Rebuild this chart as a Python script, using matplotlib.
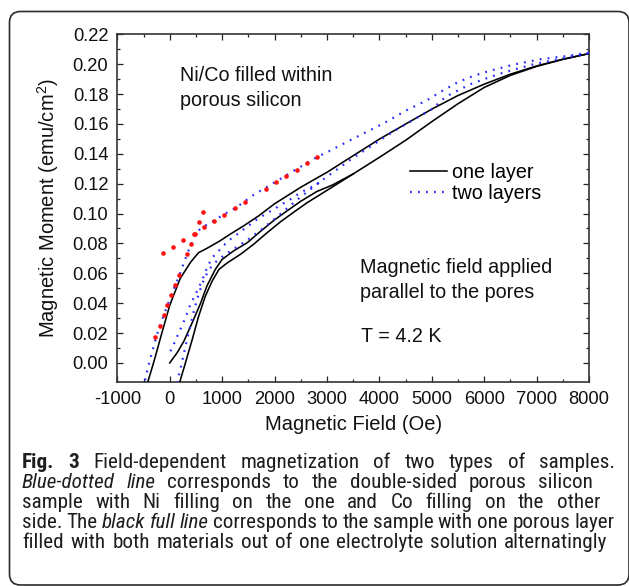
import matplotlib
matplotlib.use("Agg")
import matplotlib.pyplot as plt
from matplotlib.patches import FancyBboxPatch
from matplotlib.transforms import IdentityTransform
from matplotlib.lines import Line2D
from matplotlib import font_manager

# ---------------- data ----------------
# one layer (black solid) : descending branch
one_desc_x = [8000, 7500, 7000, 6500, 6000, 5500, 5000, 4500, 4000, 3500, 3000, 2500,
              2000, 1700, 1400, 1150, 950, 800, 700, 550, 400, 200, 0, -150, -300, -420, -460]
one_desc_y = [0.2071, 0.2033, 0.1988, 0.1933, 0.1866, 0.1790, 0.1699, 0.1599, 0.1498, 0.1387,
              0.1276, 0.1176, 0.1065, 0.0985, 0.0915, 0.0861, 0.0815, 0.0785, 0.0765, 0.0738,
              0.0675, 0.0565, 0.0385, 0.0200, 0.0010, -0.0130, -0.0180]
# one layer : ascending branch
one_asc_x = [190, 300, 430, 550, 680, 810, 940, 1100, 1350, 1600, 1860, 2115, 2370, 2620,
             3000, 3500, 4000, 4500, 5000, 5500, 6000, 6500, 7000, 7500, 8000]
one_asc_y = [-0.0130, 0.0000, 0.0157, 0.0310, 0.0447, 0.0548, 0.0626, 0.0670, 0.0727, 0.0794,
             0.0872, 0.0945, 0.1010, 0.1072, 0.1155, 0.1265, 0.1376, 0.1490, 0.1615, 0.1735,
             0.1844, 0.1925, 0.1985, 0.2032, 0.2071]
# one layer : initial (virgin) curve
one_virgin_x = [0, 140, 270, 430, 590, 710, 870, 1000, 1220, 1480, 1730, 1990, 2240, 2500,
                2810, 3100, 3500]
one_virgin_y = [0.0000, 0.0067, 0.0145, 0.0270, 0.0400, 0.0515, 0.0626, 0.0693, 0.0750, 0.0805,
                0.0880, 0.0955, 0.1018, 0.1082, 0.1148, 0.1190, 0.1265]

# two layers (blue dotted) : descending branch
two_desc_x = [8000, 7600, 7100, 6600, 6100, 5800, 5500, 5200, 4900, 4500, 4150, 3800, 3400,
              3000, 2800, 2400, 2000, 1600, 1250, 1030, 840, 650, 490, 410, 330, 185, 30,
              -115, -190, -260, -310, -370, -420, -470, -520]
two_desc_y = [0.2078, 0.2055, 0.2035, 0.2000, 0.1955, 0.1922, 0.1880, 0.1821, 0.1757, 0.1688,
              0.1617, 0.1554, 0.1483, 0.1410, 0.1376, 0.1293, 0.1208, 0.1125, 0.1036, 0.0993,
              0.0951, 0.0913, 0.0870, 0.0794, 0.0727, 0.0588, 0.0454, 0.0318, 0.0246, 0.0170,
              0.0107, 0.0029, -0.0040, -0.0115, -0.0185]
# two layers : ascending branch
two_asc_x = [140, 180, 230, 300, 380, 470, 560, 660, 760, 860, 960, 1100, 1300, 1510, 1800,
             2110, 2460, 2750, 3000, 3250, 3510, 3760, 4020, 4270, 4530, 4780, 5040, 5170,
             5360, 5550, 5740, 6000, 6310, 6630, 6950, 7330, 7710, 8000]
two_asc_y = [-0.0135, -0.0075, 0.0000, 0.0110, 0.0230, 0.0360, 0.0470, 0.0565, 0.0630, 0.0670,
             0.0700, 0.0735, 0.0780, 0.0830, 0.0906, 0.0996, 0.1100, 0.1180, 0.1247, 0.1309,
             0.1376, 0.1432, 0.1492, 0.1550, 0.1603, 0.1654, 0.1706, 0.1755, 0.1800, 0.1833,
             0.1866, 0.1900, 0.1937, 0.1970, 0.2000, 0.2027, 0.2055, 0.2073]
# two layers : initial curve
two_virgin_x = [13, 89, 159, 236, 312, 382, 459, 554, 637, 713, 809, 905, 1019, 1159, 1287,
                1414, 1541, 1669, 1828, 1987, 2146, 2306, 2497, 2688, 2850]
two_virgin_y = [0.0078, 0.0134, 0.0190, 0.0250, 0.0313, 0.0380, 0.0436, 0.0503, 0.0570, 0.0638,
                0.0705, 0.0738, 0.0783, 0.0828, 0.0861, 0.0895, 0.0928, 0.0962, 0.0996, 0.1029,
                0.1063, 0.1096, 0.1141, 0.1174, 0.1207]

# red marked points
red_x = [-127, 64, 255, 471, 650, 841, 1032, 1249, 1433, 1828, 2019, 2223, 2421, 2612, 2803,
         -274, -191, -115, -51, 32, 108, 185, 331, 408, 490, 567, 637]
red_y = [0.0738, 0.0779, 0.0823, 0.0866, 0.0913, 0.0951, 0.0993, 0.1036, 0.1078, 0.1163,
         0.1208, 0.1253, 0.1293, 0.1336, 0.1376,
         0.0174, 0.0246, 0.0318, 0.0385, 0.0454, 0.0521, 0.0588, 0.0727, 0.0794, 0.0866,
         0.0940, 0.1007]

x_ticks = [-1000, 0, 1000, 2000, 3000, 4000, 5000, 6000, 7000, 8000]
y_ticks = [0.00, 0.02, 0.04, 0.06, 0.08, 0.10, 0.12, 0.14, 0.16, 0.18, 0.20, 0.22]
legend_labels = ["one layer", "two layers"]
x_label = "Magnetic Field (Oe)"
y_label = "Magnetic Moment (emu/cm$^2$)"
note1 = ["Ni/Co filled within", "porous silicon"]
note2 = ["Magnetic field applied", "parallel to the pores"]
note3 = "T = 4.2 K"

caption_lines = [
    [("Fig. 3", "bold"), ("Field-dependent magnetization of two types of samples.", "normal")],
    [("Blue-dotted line", "italic"), ("corresponds to the double-sided porous silicon", "normal")],
    [("sample with Ni filling on the one and Co filling on the other", "normal")],
    [("side. The", "normal"), ("black full line", "italic"),
     ("corresponds to the sample with one porous layer", "normal")],
    [("filled with both materials out of one electrolyte solution alternatingly", "normal")],
]

# ---------------- style ----------------
plt.rcParams['font.family'] = ['Liberation Sans', 'DejaVu Sans']
plt.rcParams['mathtext.default'] = 'regular'

W, H = 629, 586
fig = plt.figure(figsize=(W / 100, H / 100), dpi=100)
fig.patch.set_facecolor('white')

ax_l, ax_r, ax_t, ax_b = 117.3, 589.0, 34.3, 382.3
ax = fig.add_axes([ax_l / W, 1 - ax_b / H, (ax_r - ax_l) / W, (ax_b - ax_t) / H])

blue = '#2a2aff'
dotted = (0, (0.8, 2.8))

ax.plot(one_desc_x, one_desc_y, color='black', lw=1.15, zorder=3)
ax.plot(one_asc_x, one_asc_y, color='black', lw=1.15, zorder=3)
ax.plot(one_virgin_x, one_virgin_y, color='black', lw=1.15, zorder=3)
ax.plot(two_desc_x, two_desc_y, color=blue, lw=1.6, ls=dotted, zorder=4)
ax.plot(two_asc_x, two_asc_y, color=blue, lw=1.6, ls=dotted, zorder=4)
ax.plot(two_virgin_x, two_virgin_y, color=blue, lw=1.6, ls=dotted, zorder=4)
ax.plot(red_x, red_y, ls='none', marker='o', ms=2.3, mfc='#ff1010', mec='#ff1010', zorder=5)

ax.set_xlim(-1000, 8000)
ax.set_ylim(-0.013, 0.22)
ax.set_xticks(x_ticks)
ax.set_xticklabels([str(v) for v in x_ticks])
ax.set_yticks(y_ticks)
ax.set_yticklabels(['%.2f' % v for v in y_ticks])
ax.set_xticks([v + 500 for v in x_ticks[:-1]], minor=True)
ax.set_yticks([v + 0.01 for v in y_ticks[:-1]], minor=True)
ax.tick_params(which='both', direction='in', top=True, right=True, color='#222222')
ax.tick_params(which='major', length=4.2, width=0.9, labelsize=13.2, pad=6.5, labelcolor='#111111')
ax.tick_params(which='minor', length=2.4, width=0.9)
for s in ax.spines.values():
    s.set_linewidth(1.2)
    s.set_color('#333333')

ax.set_xlabel(x_label, fontsize=14.5, labelpad=5, color='#111111')
ax.set_ylabel(y_label, fontsize=14.5, labelpad=8, color='#111111')

def ax_frac(px, py):
    return (px - ax_l) / (ax_r - ax_l), (ax_b - py) / (ax_b - ax_t)

tk = dict(fontsize=14.2, color='#111111', va='baseline', ha='left', transform=ax.transAxes)
for txt, (px, py) in zip(note1, [(180.0, 81.0), (180.0, 106.0)]):
    ax.text(*ax_frac(px, py), txt, **tk)
for txt, (px, py) in zip(note2, [(359.5, 272.7), (359.5, 297.7)]):
    ax.text(*ax_frac(px, py), txt, **tk)
ax.text(*ax_frac(361.0, 342.3), note3, **tk)

handles = [Line2D([], [], color='black', lw=1.15),
           Line2D([], [], color=blue, lw=1.6, ls=dotted)]
ax.legend(handles, legend_labels, loc='center left',
          bbox_to_anchor=ax_frac(410.0, 183.0), frameon=False, fontsize=14.2,
          handlelength=1.9, handletextpad=0.25, borderpad=0, borderaxespad=0,
          labelspacing=0.12)

# ---------------- outer rounded frame ----------------
frame = FancyBboxPatch((9.5, H - 585.0), 619.5, 585.0 - 11.5,
                       boxstyle="round,pad=0,rounding_size=11",
                       transform=IdentityTransform(), fill=False, lw=1.2, ec='#2b2b2b')
fig.patches.append(frame)

# ---------------- caption ----------------
installed = {f.name for f in font_manager.fontManager.ttflist}
cap_primary = 'Lato'
for cand in ['Roboto Condensed', 'Liberation Sans Narrow', 'Lato']:
    if cand in installed:
        cap_primary = cand
        break
cap_family = [cap_primary, 'DejaVu Sans']
cap_left = 22.0
cap_right = [615.0, 593.0, 600.0, 614.3, 607.7]
cap_base = [468.3, 488.3, 508.3, 528.3, 548.3]
renderer = fig.canvas.get_renderer()

def styled_kw(style, size):
    kw = dict(fontsize=size, family=cap_family, color='#1e1e1e', va='baseline', ha='left')
    if style == 'bold':
        kw['fontweight'] = 'bold'
    if style == 'italic':
        kw['fontstyle'] = 'italic'
    return kw

def width_of(s, style, size):
    t = fig.text(0, 0, s, **styled_kw(style, size))
    w = t.get_window_extent(renderer).width
    t.remove()
    return w

def space_of(size):
    return width_of("a a", 'normal', size) - width_of("aa", 'normal', size)

def natural_width(line, size):
    words = [(w, st) for seg, st in line for w in seg.split()]
    ws = sum(width_of(w, st, size) for w, st in words)
    return ws + space_of(size) * (len(words) - 1)

s0 = 10.0
fit4 = s0 * (cap_right[3] - cap_left) / natural_width(caption_lines[3], s0)
fit5 = s0 * (cap_right[4] - cap_left) / natural_width(caption_lines[4], s0)
cap_size = 0.75 * fit4 + 0.25 * fit5

for line, rx, by in zip(caption_lines, cap_right, cap_base):
    words = [(w, st) for seg, st in line for w in seg.split()]
    widths = [width_of(w, st, cap_size) for w, st in words]
    gap = (rx - cap_left - sum(widths)) / max(len(words) - 1, 1)
    x = cap_left
    for (w, st), wd in zip(words, widths):
        fig.text(x / W, 1 - by / H, w, **styled_kw(st, cap_size))
        x += wd + gap

fig.savefig('out.png', dpi=100)
